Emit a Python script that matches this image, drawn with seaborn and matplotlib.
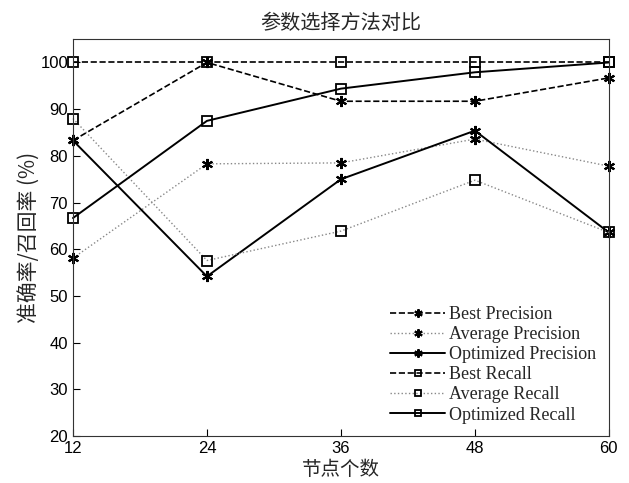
"""
参数选择方法对比: precision / recall vs. number of nodes.
"""
import pandas as pd
import matplotlib
matplotlib.use('Agg')
import matplotlib.pyplot as plt
import seaborn as sns

nodes = [12, 24, 36, 48, 60]
best_precision = [83.3, 100.0, 91.7, 91.7, 96.7]
avg_precision = [58.1, 78.3, 78.5, 83.6, 77.8]
opt_precision = [83.3, 54.2, 75.0, 85.4, 63.6]
best_recall = [100.0, 100.0, 100.0, 100.0, 100.0]
avg_recall = [88.0, 57.6, 63.9, 74.8, 63.6]
opt_recall = [66.7, 87.5, 94.4, 97.9, 100.0]

series = {
    'Best Precision': best_precision,
    'Average Precision': avg_precision,
    'Optimized Precision': opt_precision,
    'Best Recall': best_recall,
    'Average Recall': avg_recall,
    'Optimized Recall': opt_recall,
}
star = (6, 2, 0)  # asterisk
styles = {
    'Best Precision': dict(color='black', ls='--', marker=star, lw=1.2),
    'Average Precision': dict(color='#888888', ls=':', marker=star, lw=1.0),
    'Optimized Precision': dict(color='black', ls='-', marker=star, lw=1.4),
    'Best Recall': dict(color='black', ls='--', marker='s', lw=1.2),
    'Average Recall': dict(color='#888888', ls=':', marker='s', lw=1.0),
    'Optimized Recall': dict(color='black', ls='-', marker='s', lw=1.4),
}

df = pd.DataFrame([(name, x, y) for name, vals in series.items()
                   for x, y in zip(nodes, vals)],
                  columns=['series', 'nodes', 'value'])

sns.set_style('ticks')
plt.rcParams['font.family'] = ['Liberation Sans', 'Noto Sans CJK SC']
plt.rcParams['xtick.direction'] = 'in'
plt.rcParams['ytick.direction'] = 'in'

fig = plt.figure(figsize=(6.29, 4.83), dpi=100)
ax = fig.add_axes([0.116, 0.097, 0.852, 0.822])

for name in series:
    st = styles[name]
    is_sq = st['marker'] == 's'
    sns.lineplot(data=df[df['series'] == name], x='nodes', y='value', ax=ax,
                 color=st['color'], linestyle=st['ls'], linewidth=st['lw'],
                 marker=st['marker'], markersize=6.5 if is_sq else 8,
                 markerfacecolor='none' if is_sq else 'black',
                 markeredgecolor='black',
                 markeredgewidth=1.3 if is_sq else 1.5,
                 clip_on=False, label=name)

ax.set_xlim(12, 60)
ax.set_ylim(20, 105)
ax.set_xticks(nodes)
ax.set_yticks(range(20, 101, 10))
ax.tick_params(labelsize=12, length=5, width=0.8, colors='black')
for sp in ax.spines.values():
    sp.set_linewidth(0.8)
    sp.set_color('#333333')

cjk = ['Noto Sans CJK SC', 'DejaVu Sans']
ax.set_title('参数选择方法对比', family=cjk, fontsize=14.5, pad=7)
ax.set_xlabel('节点个数', family=cjk, fontsize=14, labelpad=2)
ax.set_ylabel('准确率/召回率 (%)', family=cjk, fontsize=15, labelpad=0)

leg = ax.legend(loc='lower right', frameon=False, markerscale=0.75,
                prop={'family': 'Liberation Serif', 'size': 13},
                handlelength=3.0, handletextpad=0.25, labelspacing=0.17,
                borderaxespad=0.3)

fig.savefig('out.png', dpi=100)
